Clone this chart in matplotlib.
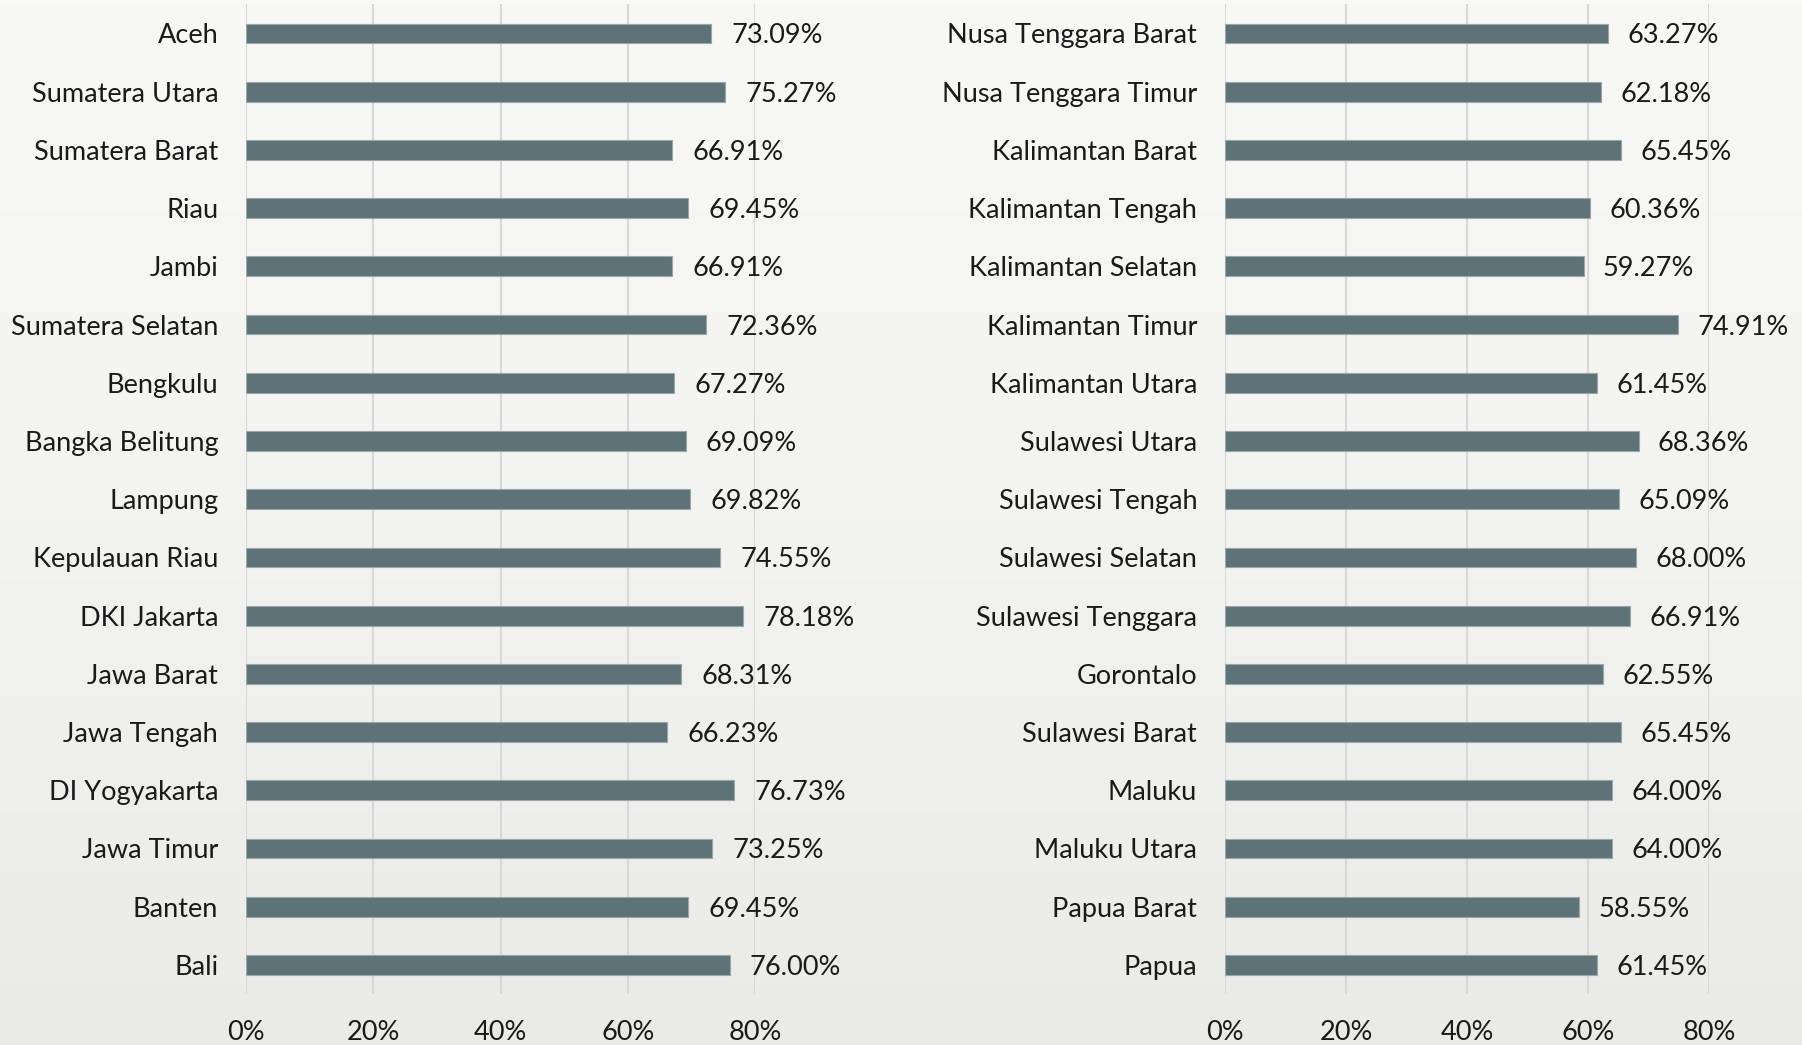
import matplotlib.pyplot as plt
from matplotlib.colors import LinearSegmentedColormap
import numpy as np

plt.rcParams['font.family'] = ['Lato', 'DejaVu Sans']

prov_left = ["Aceh", "Sumatera Utara", "Sumatera Barat", "Riau", "Jambi",
             "Sumatera Selatan", "Bengkulu", "Bangka Belitung", "Lampung",
             "Kepulauan Riau", "DKI Jakarta", "Jawa Barat", "Jawa Tengah",
             "DI Yogyakarta", "Jawa Timur", "Banten", "Bali"]
val_left = [73.09, 75.27, 66.91, 69.45, 66.91, 72.36, 67.27, 69.09, 69.82,
            74.55, 78.18, 68.31, 66.23, 76.73, 73.25, 69.45, 76.00]

prov_right = ["Nusa Tenggara Barat", "Nusa Tenggara Timur", "Kalimantan Barat",
              "Kalimantan Tengah", "Kalimantan Selatan", "Kalimantan Timur",
              "Kalimantan Utara", "Sulawesi Utara", "Sulawesi Tengah",
              "Sulawesi Selatan", "Sulawesi Tenggara", "Gorontalo",
              "Sulawesi Barat", "Maluku", "Maluku Utara", "Papua Barat", "Papua"]
val_right = [63.27, 62.18, 65.45, 60.36, 59.27, 74.91, 61.45, 68.36, 65.09,
             68.00, 66.91, 62.55, 65.45, 64.00, 64.00, 58.55, 61.45]

xticks = [0, 20, 40, 60, 80]

bar_col = "#5e7377"
txt_col = "#1a1a1a"
bg = "#f5f5f3"

fig = plt.figure(figsize=(18.02, 10.45), dpi=100)
fig.patch.set_facecolor(bg)

# soft background fade, lighter at the top
bgax = fig.add_axes([0, 0, 1, 1], zorder=-10)
grad = np.linspace(0, 1, 256).reshape(-1, 1)
bgcmap = LinearSegmentedColormap.from_list("bg", ["#f8f8f6", "#f3f3f1", "#eaeae8"])
bgax.imshow(grad, aspect="auto", cmap=bgcmap, extent=[0, 1, 0, 1], origin="upper")
bgax.axis("off")

ax1 = fig.add_axes([0.1365, 0.0488, 0.2825, 0.947])
ax2 = fig.add_axes([0.6798, 0.0488, 0.2686, 0.947])

fs = 19.5

for ax, names_, vals in [(ax1, prov_left, val_left), (ax2, prov_right, val_right)]:
    ax.set_facecolor("none")
    y = np.arange(len(names_))
    ax.barh(y, vals, height=0.34, color=bar_col, edgecolor="#9aa7aa", linewidth=0.8, zorder=3)
    for yi, v in zip(y, vals):
        ax.text(v + 80 * 0.04, yi, "%.2f%%" % v, va="center_baseline", ha="left",
                fontsize=fs, color=txt_col, zorder=4)
    ax.set_yticks(y)
    ax.set_yticklabels(names_, fontsize=fs, color=txt_col)
    ax.set_ylim(len(names_) - 0.5, -0.5)
    ax.set_xlim(0, 80)
    ax.set_xticks(xticks)
    ax.set_xticklabels(["%d%%" % t for t in xticks], fontsize=fs, color=txt_col)
    ax.tick_params(axis="both", length=0)
    ax.tick_params(axis="y", pad=20)
    ax.tick_params(axis="x", pad=19)
    ax.grid(axis="x", color="#d8d8d8", linewidth=1.5, zorder=0)
    ax.set_axisbelow(True)
    for s in ax.spines.values():
        s.set_visible(False)

fig.savefig("out.png", dpi=100, facecolor=bg)
